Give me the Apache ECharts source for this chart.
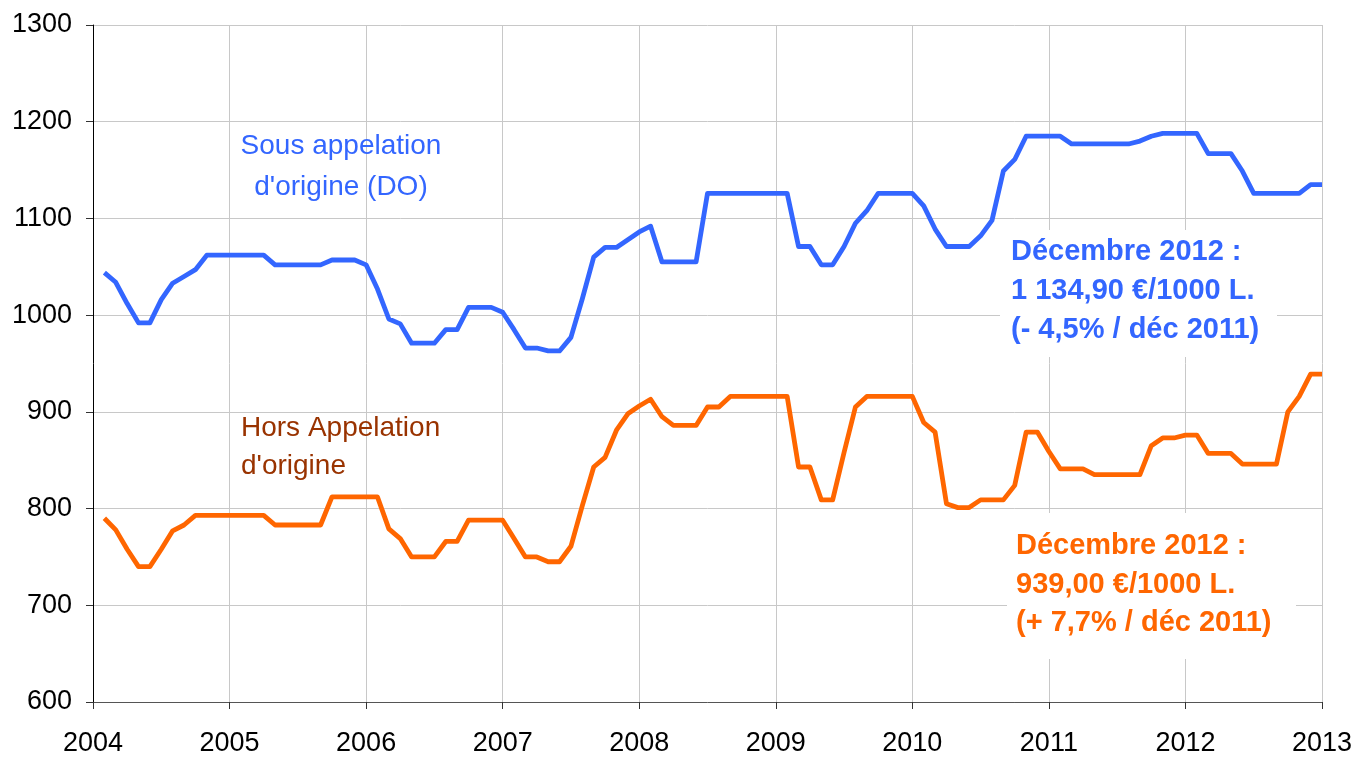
<!DOCTYPE html>
<html>
<head>
<meta charset="utf-8">
<script src="https://cdn.jsdelivr.net/npm/echarts@6/dist/echarts.min.js"></script>
<style>
html,body{margin:0;padding:0;background:#fff;}
#chart{width:1356px;height:757px;}
</style>
</head>
<body>
<div id="chart"></div>
<script>
// Monthly prices, Jan 2004 .. Dec 2012 (euros / 1000 L)
var startYear = 2004;
var yearTicks = [2004, 2005, 2006, 2007, 2008, 2009, 2010, 2011, 2012, 2013];
var yTicks = [600, 700, 800, 900, 1000, 1100, 1200, 1300];

var doValues = [
  1044, 1034, 1012, 992, 992, 1016, 1033, 1040, 1047, 1062, 1062, 1062,
  1062, 1062, 1062, 1052, 1052, 1052, 1052, 1052, 1057, 1057, 1057, 1052,
  1027, 996, 991, 971, 971, 971, 985, 985, 1008, 1008, 1008, 1003,
  985, 966, 966, 963, 963, 977, 1017, 1060, 1070, 1070, 1078, 1086,
  1092, 1055, 1055, 1055, 1055, 1126, 1126, 1126, 1126, 1126, 1126, 1126,
  1126, 1071, 1071, 1052, 1052, 1071, 1095, 1108, 1126, 1126, 1126, 1126,
  1113, 1089, 1071, 1071, 1071, 1082, 1098, 1149, 1161, 1185, 1185, 1185,
  1185, 1177, 1177, 1177, 1177, 1177, 1177, 1180, 1185, 1188, 1188, 1188,
  1188, 1167, 1167, 1167, 1149, 1126, 1126, 1126, 1126, 1126, 1135, 1134.9
];

var horsValues = [
  790, 778, 758, 740, 740, 758, 777, 783, 793, 793, 793, 793,
  793, 793, 793, 783, 783, 783, 783, 783, 812, 812, 812, 812,
  812, 779, 769, 750, 750, 750, 766, 766, 788, 788, 788, 788,
  769, 750, 750, 745, 745, 761, 803, 843, 853, 881, 898, 906,
  913, 895, 886, 886, 886, 905, 905, 916, 916, 916, 916, 916,
  916, 843, 843, 809, 809, 858, 905, 916, 916, 916, 916, 916,
  889, 879, 805, 801, 801, 809, 809, 809, 824, 879, 879, 859,
  841, 841, 841, 835, 835, 835, 835, 835, 865, 873, 873, 876,
  876, 857, 857, 857, 846, 846, 846, 846, 900, 916, 939, 939
];

function toPoints(vals) {
  return vals.map(function (v, i) { return [startYear + (i + 1) / 12, v]; });
}

var FONT = '"Liberation Sans", Arial, sans-serif';
var chart = echarts.init(document.getElementById('chart'), null, {renderer: 'canvas'});

function txt(x, y, s, color, size, bold, align) {
  return {
    type: 'text', z: 11,
    style: {
      x: x, y: y, text: s, fill: color,
      font: (bold ? 'bold ' : '') + size + 'px ' + FONT,
      textAlign: align, textVerticalAlign: 'middle'
    }
  };
}

var option = {
  animation: false,
  backgroundColor: '#ffffff',
  grid: {left: 93, right: 34, top: 25, bottom: 54, containLabel: false},
  xAxis: {
    type: 'value',
    min: yearTicks[0],
    max: yearTicks[yearTicks.length - 1],
    interval: 1,
    axisLine: {show: true, lineStyle: {color: '#555555', width: 1}},
    axisTick: {show: true, length: 7, lineStyle: {color: '#333333'}},
    axisLabel: {
      color: '#000', fontFamily: FONT, fontSize: 27, margin: 28,
      formatter: function (v) { return String(Math.round(v)); }
    },
    splitLine: {show: true, lineStyle: {color: '#c8c8c8', width: 1}}
  },
  yAxis: {
    type: 'value',
    min: yTicks[0],
    max: yTicks[yTicks.length - 1],
    interval: 100,
    axisLine: {show: true, lineStyle: {color: '#000000', width: 1}},
    axisTick: {show: true, length: 7, lineStyle: {color: '#333333'}},
    axisLabel: {
      color: '#000', fontFamily: FONT, fontSize: 27, margin: 21,
      formatter: function (v) { return String(Math.round(v)); }
    },
    splitLine: {show: true, lineStyle: {color: '#c8c8c8', width: 1}}
  },
  series: [
    {
      name: 'Sous appelation d\'origine (DO)',
      type: 'line',
      data: toPoints(doValues),
      symbol: 'none',
      lineStyle: {color: '#3366ff', width: 4.8, join: 'round'},
      z: 5
    },
    {
      name: 'Hors Appelation d\'origine',
      type: 'line',
      data: toPoints(horsValues),
      symbol: 'none',
      lineStyle: {color: '#ff6600', width: 4.8, join: 'round'},
      z: 5
    }
  ],
  graphic: [
    txt(341, 146, 'Sous appelation', '#3366ff', 28, false, 'center'),
    txt(341, 187, "d'origine (DO)", '#3366ff', 28, false, 'center'),
    txt(241, 428, 'Hors Appelation', '#993300', 28, false, 'left'),
    txt(241, 466, "d'origine", '#993300', 28, false, 'left'),

    {type: 'rect', shape: {x: 1000, y: 230, width: 277, height: 127}, style: {fill: '#ffffff'}, z: 10},
    txt(1011, 252, 'Décembre 2012 :', '#3366ff', 29, true, 'left'),
    txt(1011, 291, '1 134,90 €/1000 L.', '#3366ff', 29, true, 'left'),
    txt(1011, 330, '(- 4,5% / déc 2011)', '#3366ff', 29, true, 'left'),

    {type: 'rect', shape: {x: 1007, y: 513, width: 289, height: 146}, style: {fill: '#ffffff'}, z: 10},
    txt(1016, 546, 'Décembre 2012 :', '#ff6600', 29, true, 'left'),
    txt(1016, 585, '939,00 €/1000 L.', '#ff6600', 29, true, 'left'),
    txt(1016, 623, '(+ 7,7% / déc 2011)', '#ff6600', 29, true, 'left')
  ]
};
chart.setOption(option);
</script>
</body>
</html>
